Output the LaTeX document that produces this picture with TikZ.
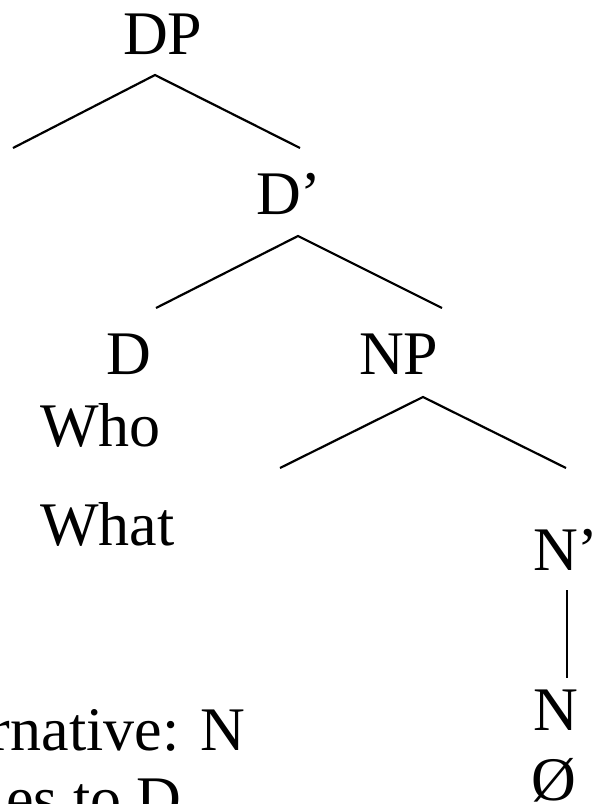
\documentclass[tikz,border=0pt]{standalone}
\usepackage{fontspec}
\setmainfont{Liberation Serif}
\tikzset{
  lbl/.style={anchor=base west, inner sep=0pt, outer sep=0pt, font=\fontsize{62}{74}\selectfont},
  branch/.style={line width=2.2pt, black, line cap=butt}
}
\begin{document}
\begin{tikzpicture}[x=1pt,y=-1pt]
\useasboundingbox (0,0) rectangle (597,804);
\clip (0,0) rectangle (597,804);
% labels
\node[lbl] (dp) at (123,54) {DP};
\node[lbl] (dbar) at (256,214) {D’};
\node[lbl] (d) at (106,374) {D};
\node[lbl] (np) at (359,374) {NP};
\node[lbl] (who) at (40,446) {Who};
\node[lbl] (what) at (40,545) {What};
\node[lbl] (nbar) at (533,570) {N’};
\node[lbl] (n) at (533,730) {N};
\node[lbl] (null) at (531,800) {Ø};
\node[lbl] (alt1) at (-10,750) {rnative: N};
\node[lbl] (alt2) at (6,819) {es to D};
% branch points
\coordinate (dpA) at (155,75);
\coordinate (dpL) at (13,148);
\coordinate (dpR) at (300,148);
\coordinate (dbA) at (298,236);
\coordinate (dbL) at (156,308);
\coordinate (dbR) at (442,308);
\coordinate (npA) at (423,397);
\coordinate (npL) at (280,468);
\coordinate (npR) at (566,468);
\coordinate (nbT) at (567,590);
\coordinate (nbB) at (567,678);
\draw[branch] (dpL) -- (dpA) -- (dpR);
\draw[branch] (dbL) -- (dbA) -- (dbR);
\draw[branch] (npL) -- (npA) -- (npR);
\draw[branch] (nbT) -- (nbB);
\end{tikzpicture}
\end{document}
